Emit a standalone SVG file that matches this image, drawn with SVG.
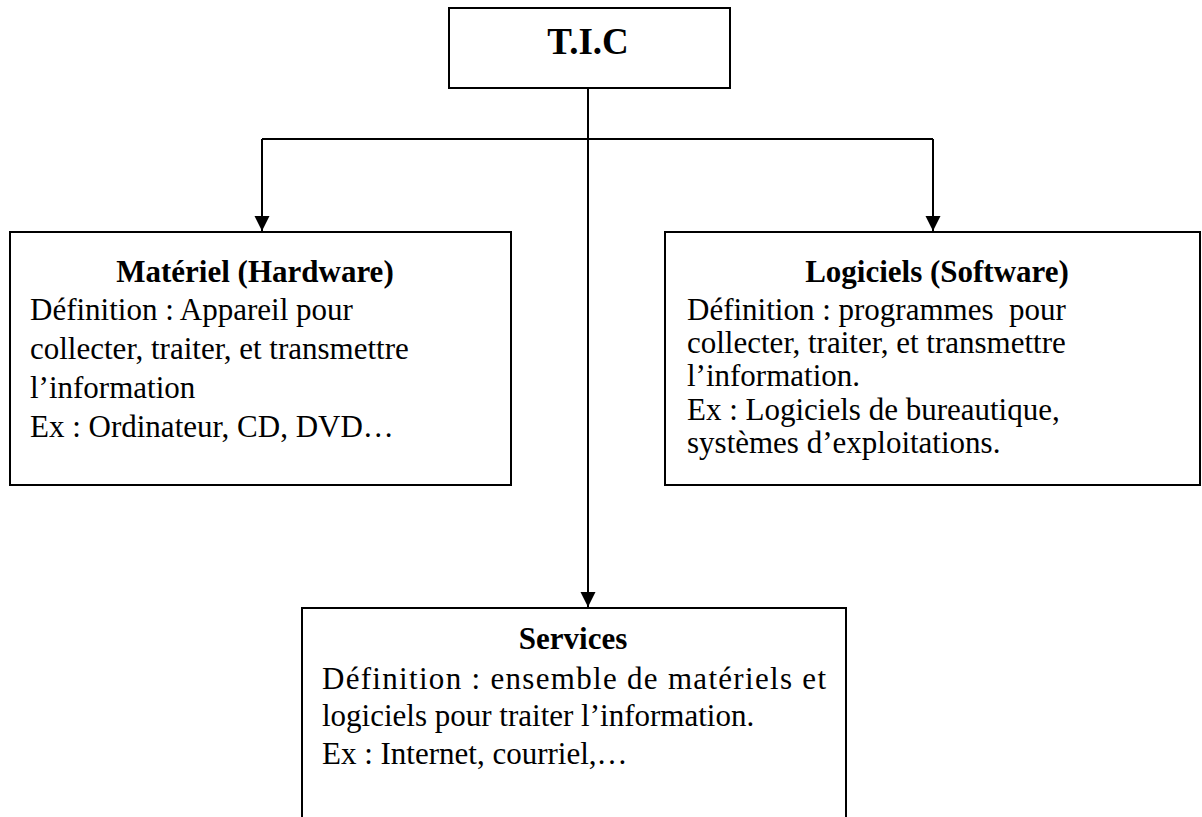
<svg xmlns="http://www.w3.org/2000/svg" width="1202" height="817" viewBox="0 0 1202 817">
<style>
.box{fill:#fff;stroke:#000;stroke-width:2}
.con{fill:none;stroke:#000;stroke-width:2}
text{font-family:"Liberation Serif","Times New Roman",serif;fill:#000;font-size:31px}
.b{font-weight:bold}
.mid{text-anchor:middle}
</style>
<defs>
<marker id="arr" markerUnits="userSpaceOnUse" markerWidth="16" markerHeight="16" refX="15" refY="8" orient="auto" viewBox="0 0 16 16">
<path d="M0 0.5 L15 8 L0 15.5 Z" fill="#000"/>
</marker>
</defs>
<rect width="1202" height="817" fill="#fff"/>
<g id="connectors">
<path class="con" d="M588 88 V607" marker-end="url(#arr)"/>
<path class="con" d="M262 139 H933"/>
<path class="con" d="M262 139 V231" marker-end="url(#arr)"/>
<path class="con" d="M933 139 V231" marker-end="url(#arr)"/>
</g>
<g id="tic">
<rect class="box" x="449" y="8" width="281" height="80"/>
<text class="b mid" x="588" y="54" style="font-size:37px">T.I.C</text>
</g>
<g id="materiel">
<rect class="box" x="10" y="232" width="501" height="253"/>
<text class="b mid" x="255" y="282">Matériel (Hardware)</text>
<text x="30" y="320">Définition : Appareil pour</text>
<text x="30" y="359">collecter, traiter, et transmettre</text>
<text x="30" y="398">l’information</text>
<text x="30" y="437">Ex : Ordinateur, CD, DVD…</text>
</g>
<g id="logiciels">
<rect class="box" x="665" y="232" width="535" height="253"/>
<text class="b mid" x="937" y="282">Logiciels (Software)</text>
<text x="687" y="320" xml:space="preserve">Définition : programmes  pour</text>
<text x="687" y="353">collecter, traiter, et transmettre</text>
<text x="687" y="386">l’information.</text>
<text x="687" y="420">Ex : Logiciels de bureautique,</text>
<text x="687" y="453">systèmes d’exploitations.</text>
</g>
<g id="services">
<rect class="box" x="302" y="608" width="544" height="230"/>
<text class="b mid" x="573" y="649">Services</text>
<text x="322" y="689" textLength="504" lengthAdjust="spacing">Définition : ensemble de matériels et</text>
<text x="322" y="726">logiciels pour traiter l’information.</text>
<text x="322" y="764">Ex : Internet, courriel,…</text>
</g>
</svg>
